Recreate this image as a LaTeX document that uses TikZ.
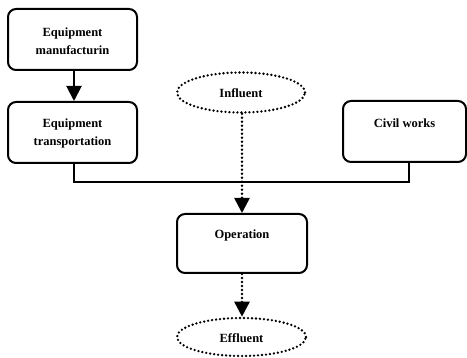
\documentclass[tikz,border=0pt]{standalone}
\usepackage{fontspec}
\setmainfont{Liberation Serif}
\usetikzlibrary{arrows.meta,shapes.geometric}
\begin{document}
\begin{tikzpicture}[x=1pt,y=-1pt,
  box/.style={draw,line width=2pt,rounded corners=8pt,inner sep=0pt},
  oval/.style={ellipse,draw,line width=2.6pt,line cap=round,dash pattern=on 0pt off 4pt,inner sep=0pt},
  lbl/.style={font=\fontsize{12.5}{18}\selectfont\bfseries,align=center,inner sep=0pt},
  conn/.style={line width=2pt},
  dotconn/.style={line width=2.6pt,line cap=round,dash pattern=on 0pt off 4pt},
  tip/.style={-{Triangle[width=15pt,length=15pt]}}]
\useasboundingbox (0,0) rectangle (467,358);
\node[box,minimum width=129pt,minimum height=61pt] (b1) at (72.5,39.5) {};
\node[lbl] (t1) at (72.5,41) {Equipment\\manufacturin};
\node[box,minimum width=129pt,minimum height=61pt] (b2) at (72.5,132.5) {};
\node[lbl] (t2) at (72.5,133) {Equipment\\transportation};
\node[box,minimum width=123pt,minimum height=61pt] (civ) at (404.5,131.5) {};
\node[lbl] (t3) at (404.5,123) {Civil works};
\node[box,minimum width=130pt,minimum height=59pt] (op) at (242,243.5) {};
\node[lbl] (t4) at (242,235) {Operation};
\node[oval,minimum width=128pt,minimum height=40pt] (inf) at (241,92.5) {};
\node[lbl] (t5) at (241,93) {Influent};
\node[oval,minimum width=129pt,minimum height=38pt] (eff) at (241.5,337) {};
\node[lbl] (t6) at (241.5,338) {Effluent};
\coordinate (j1) at (74,182);
\coordinate (j2) at (409,182);
\draw[conn,tip] (b1.south -| j1) -- (b2.north -| j1);
\draw[conn] (b2.south -| j1) -- (j1) -- (j2) -- (civ.south -| j2);
\draw[dotconn,tip] (inf.south -| op.north) -- (op.north);
\draw[dotconn,tip] (op.south) -- (eff.north -| op.south);
\end{tikzpicture}
\end{document}
